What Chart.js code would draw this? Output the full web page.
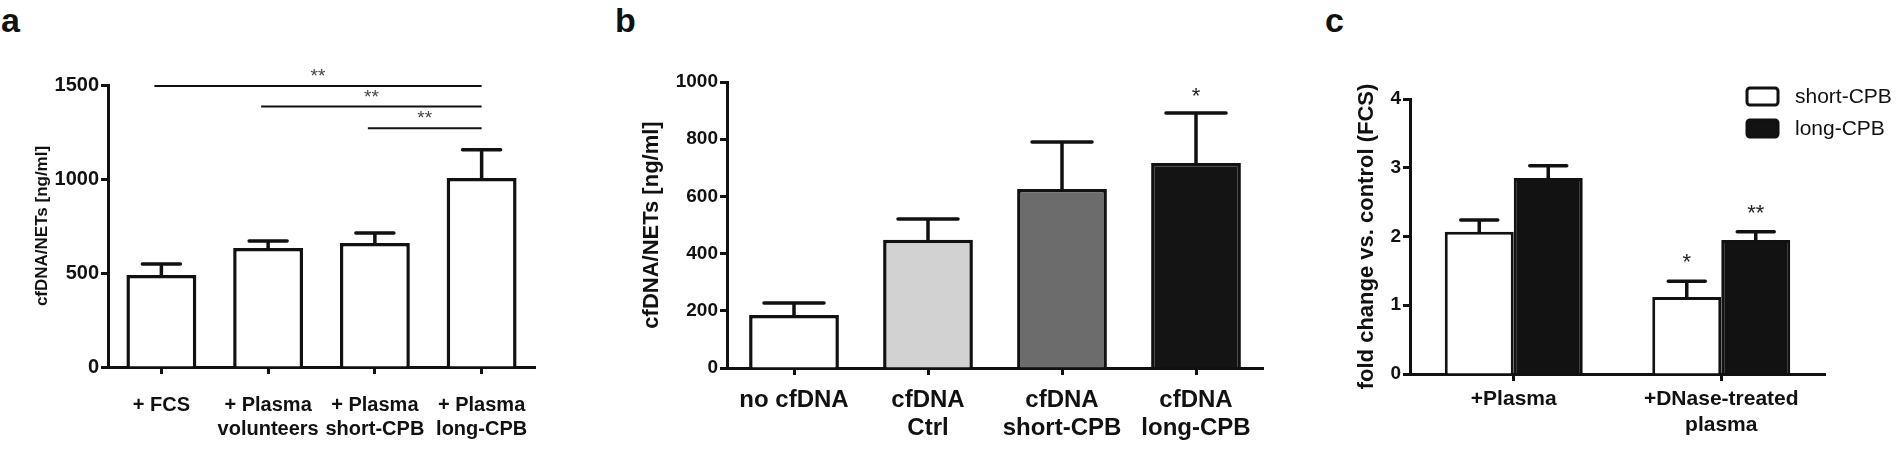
<!DOCTYPE html>
<html>
<head>
<meta charset="utf-8">
<script src="https://cdn.jsdelivr.net/npm/chart.js@4.4.1/dist/chart.umd.min.js"></script>
<style>
  body { margin: 0; background: #fff; width: 1900px; height: 450px; overflow: hidden; position: relative; }
  canvas { position: absolute; top: 0; }
  .tag { position: absolute; top: 3px; font: bold 34px/34px 'Liberation Sans', Arial, sans-serif; color: #111; }
</style>
</head>
<body>
<div class="tag" style="left:1px">a</div>
<div class="tag" style="left:615px">b</div>
<div class="tag" style="left:1325px">c</div>
<canvas id="chartA" width="560" height="450" style="left:0px"></canvas>
<canvas id="chartB" width="680" height="450" style="left:600px"></canvas>
<canvas id="chartC" width="580" height="450" style="left:1320px"></canvas>
<script>
// panel a
var aLabels = ['+ FCS', ['+ Plasma', 'volunteers'], ['+ Plasma', 'short-CPB'], ['+ Plasma', 'long-CPB']]
var aMeans = [489, 633, 660, 1005]
var aErrors = [59, 37, 53, 150]
var aSigFrom = [0, 1, 2]
var aSigTo = [3, 3, 3]
var aSigLevel = [1495, 1385, 1270]
var aSigText = ['**', '**', '**']

// panel b
var bLabels = ['no cfDNA', ['cfDNA', 'Ctrl'], ['cfDNA', 'short-CPB'], ['cfDNA', 'long-CPB']]
var bMeans = [185, 448, 626, 717]
var bErrors = [42, 73, 164, 175]
var bStars = ['', '', '', '*']
var bColors = ['#ffffff', '#d2d2d2', '#6c6c6c', '#141414']

// panel c
var cLabels = ['+Plasma', ['+DNase-treated', 'plasma']]
var cShort = [2.07, 1.12]
var cShortErr = [0.17, 0.23]
var cShortStars = ['', '*']
var cLong = [2.85, 1.95]
var cLongErr = [0.18, 0.12]
var cLongStars = ['', '**']

var FONT = "'Liberation Sans', Arial, sans-serif"
var INK = '#111'

// error bars + stars over the bars
var errorBars = {
  id: 'errorBars',
  afterDatasetsDraw: function(chart, args, opts) {
    var ctx = chart.ctx
    var y = chart.scales.y
    chart.data.datasets.forEach(function(ds, di) {
      if (!ds.errors) return
      chart.getDatasetMeta(di).data.forEach(function(bar, i) {
        var top = y.getPixelForValue(ds.data[i] + ds.errors[i])
        ctx.save()
        ctx.strokeStyle = INK
        ctx.lineWidth = opts.width
        ctx.lineCap = 'round'
        ctx.beginPath()
        ctx.moveTo(bar.x, bar.y)
        ctx.lineTo(bar.x, top)
        ctx.moveTo(bar.x - opts.cap / 2, top)
        ctx.lineTo(bar.x + opts.cap / 2, top)
        ctx.stroke()
        if (ds.stars && ds.stars[i]) {
          ctx.fillStyle = '#222'
          ctx.font = opts.starSize + 'px ' + FONT
          ctx.textAlign = 'center'
          ctx.textBaseline = 'alphabetic'
          ctx.fillText(ds.stars[i], bar.x, top - opts.starGap)
        }
        ctx.restore()
      })
    })
  }
}

// significance brackets for panel a
var sigLines = {
  id: 'sigLines',
  afterDraw: function(chart, args, opts) {
    if (!opts.from) return
    var ctx = chart.ctx
    var x = chart.scales.x, y = chart.scales.y
    ctx.save()
    opts.from.forEach(function(f, i) {
      var x1 = x.getPixelForValue(f) - 7
      var x2 = x.getPixelForValue(opts.to[i])
      var yy = y.getPixelForValue(opts.level[i])
      ctx.strokeStyle = INK
      ctx.lineWidth = 2
      ctx.beginPath()
      ctx.moveTo(x1, yy)
      ctx.lineTo(x2, yy)
      ctx.stroke()
      ctx.fillStyle = '#444'
      ctx.font = '19px ' + FONT
      ctx.textAlign = 'center'
      ctx.textBaseline = 'alphabetic'
      ctx.fillText(opts.text[i], (x1 + x2) / 2, yy - 4)
    })
    ctx.restore()
  }
}

// legend for panel c
var boxLegend = {
  id: 'boxLegend',
  afterDraw: function(chart, args, opts) {
    if (!opts.show) return
    var ctx = chart.ctx
    ctx.save()
    chart.data.datasets.forEach(function(ds, i) {
      var top = opts.top + i * opts.gap
      ctx.fillStyle = ds.backgroundColor
      ctx.strokeStyle = INK
      ctx.lineWidth = 3
      ctx.beginPath()
      ctx.roundRect(opts.left, top, 31, 17, 3)
      ctx.fill()
      ctx.stroke()
      ctx.fillStyle = INK
      ctx.font = '21px ' + FONT
      ctx.textAlign = 'left'
      ctx.textBaseline = 'middle'
      ctx.fillText(ds.label, opts.left + 48, top + 9)
    })
    ctx.restore()
  }
}

function yAxis(max, step, size, title, titleSize, titlePad, width) {
  return {
    min: 0,
    max: max,
    ticks: {
      stepSize: step,
      color: INK,
      padding: 2,
      font: { family: FONT, size: size, weight: 'bold' },
      callback: function(val) { return String(val) }
    },
    grid: { drawOnChartArea: false, drawTicks: true, tickLength: 7, tickWidth: 3, tickColor: INK },
    border: { display: true, color: INK, width: 3 },
    title: {
      display: true,
      text: title,
      color: INK,
      padding: { top: titlePad, bottom: 0 },
      font: { family: FONT, size: titleSize, weight: 'bold' }
    },
    afterFit: function(scale) { scale.width = width }
  }
}

function xAxis(size, lineHeight, pad, height) {
  return {
    offset: true,
    ticks: {
      color: INK,
      padding: pad,
      autoSkip: false,
      maxRotation: 0,
      minRotation: 0,
      font: { family: FONT, size: size, weight: 'bold', lineHeight: lineHeight }
    },
    grid: { offset: false, drawOnChartArea: false, drawTicks: true, tickLength: 7, tickWidth: 3, tickColor: INK },
    border: { display: true, color: INK, width: 3 },
    afterFit: function(scale) { scale.height = height }
  }
}

function baseOptions(pad, yAx, xAx) {
  return {
    responsive: false,
    animation: false,
    events: [],
    layout: { padding: pad },
    scales: { x: xAx, y: yAx },
    plugins: { legend: { display: false }, tooltip: { enabled: false } }
  }
}

function createCharts() {
  var optA = baseOptions({ left: 0, right: 25, top: 85, bottom: 0 },
    yAxis(1500, 500, 20, 'cfDNA/NETs [ng/ml]', 17, 32, 108),
    xAxis(20, 1.2, 19, 83))
  optA.plugins.errorBars = { width: 3.5, cap: 38, starSize: 19, starGap: 10 }
  optA.plugins.sigLines = { from: aSigFrom, to: aSigTo, level: aSigLevel, text: aSigText }
  new Chart(document.getElementById('chartA'), {
    type: 'bar',
    data: {
      labels: aLabels,
      datasets: [{
        data: aMeans,
        errors: aErrors,
        backgroundColor: '#ffffff',
        borderColor: INK,
        borderWidth: 3.5,
        categoryPercentage: 1,
        barPercentage: 0.655
      }]
    },
    options: optA,
    plugins: [errorBars, sigLines]
  })

  var optB = baseOptions({ left: 0, right: 17, top: 82, bottom: 0 },
    yAxis(1000, 200, 19, 'cfDNA/NETs [ng/ml]', 22, 39, 127),
    xAxis(24, 1.15, 12, 82))
  optB.plugins.errorBars = { width: 3.5, cap: 60, starSize: 22, starGap: 10 }
  new Chart(document.getElementById('chartB'), {
    type: 'bar',
    data: {
      labels: bLabels,
      datasets: [{
        data: bMeans,
        errors: bErrors,
        stars: bStars,
        backgroundColor: bColors,
        borderColor: INK,
        borderWidth: 3.5,
        categoryPercentage: 1,
        barPercentage: 0.67
      }]
    },
    options: optB,
    plugins: [errorBars]
  })

  var optC = baseOptions({ left: 0, right: 75, top: 99, bottom: 0 },
    yAxis(4, 1, 19, 'fold change vs. control (FCS)', 22, 34, 90),
    xAxis(21, 1.2, 6, 76))
  optC.plugins.errorBars = { width: 3.5, cap: 37, starSize: 22, starGap: 12 }
  optC.plugins.boxLegend = { show: true, left: 427, top: 88, gap: 32 }
  new Chart(document.getElementById('chartC'), {
    type: 'bar',
    data: {
      labels: cLabels,
      datasets: [{
        label: 'short-CPB',
        data: cShort,
        errors: cShortErr,
        stars: cShortStars,
        backgroundColor: '#ffffff',
        borderColor: INK,
        borderWidth: 3,
        categoryPercentage: 0.665,
        barPercentage: 1
      }, {
        label: 'long-CPB',
        data: cLong,
        errors: cLongErr,
        stars: cLongStars,
        backgroundColor: '#121212',
        borderColor: INK,
        borderWidth: 3,
        categoryPercentage: 0.665,
        barPercentage: 1
      }]
    },
    options: optC,
    plugins: [errorBars, boxLegend]
  })
}

window.onload = function() {
  createCharts()
}
</script>
</body>
</html>
